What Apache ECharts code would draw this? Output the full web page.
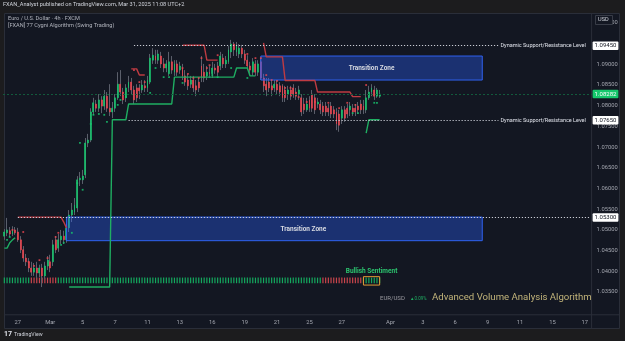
<!DOCTYPE html>
<html><head><meta charset="utf-8">
<script src="https://cdn.jsdelivr.net/npm/echarts@6/dist/echarts.min.js"></script>
<style>html,body{margin:0;padding:0;background:#1c1c1e}#c{width:625px;height:341px}</style>
</head><body><div id="c"></div>
<script>
// ---------- DATA ----------
const tradingDays = ['Feb 26','Feb 27','Feb 28','Mar 3','Mar 4','Mar 5','Mar 6','Mar 7','Mar 10','Mar 11','Mar 12','Mar 13','Mar 14','Mar 17','Mar 18','Mar 19','Mar 20','Mar 21','Mar 24','Mar 25','Mar 26','Mar 27','Mar 28','Mar 31','Apr 1','Apr 2','Apr 3','Apr 4','Apr 7','Apr 8','Apr 9','Apr 10','Apr 11','Apr 14','Apr 15','Apr 16','Apr 17'];
const sessionsPerDay = 6, firstDaySessions = 5, lastDaySessions = 3;
const tickDates = ['Feb 27','Mar 3','Mar 5','Mar 7','Mar 11','Mar 13','Mar 17','Mar 19','Mar 21','Mar 25','Mar 27','Apr 1','Apr 3','Apr 7','Apr 9','Apr 11','Apr 15','Apr 17'];
const tickTexts = ['27','Mar','5','7','11','13','16','19','21','25','27','Apr','3','6','9','11','15','17'];
const hiddenPriceTicks = [1.095, 1.030];

// [open, close, low, high] per 4h candle
const ohlc = [
[1.0485,1.0495,1.0476,1.0502],[1.0493,1.0500,1.0485,1.0529],[1.0498,1.0490,1.0483,1.0507],[1.0490,1.0500,1.0485,1.0509],[1.0500,1.0493,1.0488,1.0507],
[1.0495,1.0476,1.0471,1.0505],[1.0476,1.0452,1.0444,1.0485],[1.0452,1.0432,1.0423,1.0461],[1.0432,1.0423,1.0413,1.0442],[1.0423,1.0408,1.0398,1.0432],[1.0408,1.0398,1.0389,1.0423],
[1.0398,1.0408,1.0389,1.0420],[1.0408,1.0396,1.0384,1.0423],[1.0396,1.0408,1.0386,1.0416],[1.0408,1.0389,1.0362,1.0418],[1.0389,1.0413,1.0381,1.0423],[1.0413,1.0427,1.0403,1.0437],
[1.0423,1.0408,1.0398,1.0440],[1.0423,1.0464,1.0413,1.0476],[1.0476,1.0452,1.0444,1.0485],[1.0456,1.0476,1.0447,1.0490],[1.0476,1.0485,1.0466,1.0500],[1.0485,1.0476,1.0466,1.0498],
[1.0476,1.0505,1.0469,1.0514],[1.0505,1.0536,1.0495,1.0548],[1.0536,1.0548,1.0519,1.0565],[1.0543,1.0560,1.0536,1.0577],[1.0553,1.0621,1.0543,1.0630],[1.0621,1.0625,1.0606,1.0640],
[1.0621,1.0630,1.0611,1.0645],[1.0633,1.0710,1.0625,1.0722],[1.0710,1.0717,1.0700,1.0732],[1.0717,1.0785,1.0712,1.0794],[1.0785,1.0807,1.0778,1.0819],[1.0804,1.0794,1.0785,1.0814],
[1.0794,1.0814,1.0785,1.0828],[1.0814,1.0799,1.0782,1.0823],[1.0799,1.0823,1.0790,1.0838],[1.0823,1.0794,1.0785,1.0833],[1.0794,1.0785,1.0775,1.0852],[1.0785,1.0794,1.0770,1.0809],
[1.0794,1.0819,1.0785,1.0828],[1.0819,1.0852,1.0814,1.0881],[1.0852,1.0833,1.0823,1.0886],[1.0833,1.0814,1.0804,1.0843],[1.0819,1.0843,1.0809,1.0852],[1.0843,1.0857,1.0833,1.0872],
[1.0857,1.0838,1.0828,1.0867],[1.0838,1.0814,1.0804,1.0848],[1.0843,1.0819,1.0809,1.0852],[1.0843,1.0836,1.0816,1.0852],[1.0838,1.0850,1.0831,1.0862],[1.0848,1.0843,1.0833,1.0862],
[1.0843,1.0862,1.0833,1.0872],[1.0857,1.0915,1.0852,1.0925],[1.0910,1.0922,1.0901,1.0939],[1.0920,1.0910,1.0901,1.0935],[1.0910,1.0925,1.0901,1.0935],[1.0920,1.0901,1.0891,1.0930],
[1.0901,1.0891,1.0881,1.0915],[1.0891,1.0901,1.0881,1.0910],[1.0877,1.0906,1.0872,1.0930],[1.0906,1.0886,1.0877,1.0920],[1.0881,1.0901,1.0872,1.0910],[1.0901,1.0881,1.0872,1.0910],
[1.0886,1.0896,1.0877,1.0906],[1.0891,1.0872,1.0862,1.0901],[1.0872,1.0857,1.0848,1.0886],[1.0862,1.0848,1.0838,1.0877],[1.0852,1.0862,1.0843,1.0872],[1.0862,1.0843,1.0833,1.0872],
[1.0848,1.0838,1.0823,1.0862],[1.0857,1.0843,1.0833,1.0867],[1.0896,1.0867,1.0857,1.0920],[1.0881,1.0867,1.0857,1.0901],[1.0872,1.0881,1.0862,1.0896],[1.0881,1.0877,1.0867,1.0896],
[1.0877,1.0891,1.0867,1.0906],[1.0891,1.0886,1.0877,1.0901],[1.0896,1.0881,1.0872,1.0906],[1.0896,1.0920,1.0886,1.0930],[1.0915,1.0901,1.0891,1.0925],[1.0901,1.0910,1.0891,1.0920],
[1.0906,1.0935,1.0901,1.0944],[1.0930,1.0949,1.0915,1.0959],[1.0949,1.0935,1.0920,1.0954],[1.0930,1.0944,1.0920,1.0954],[1.0925,1.0939,1.0915,1.0949],[1.0939,1.0925,1.0915,1.0947],
[1.0925,1.0910,1.0901,1.0935],[1.0910,1.0896,1.0886,1.0922],[1.0896,1.0886,1.0877,1.0906],[1.0881,1.0906,1.0872,1.0915],[1.0901,1.0881,1.0872,1.0910],[1.0881,1.0901,1.0872,1.0910],
[1.0906,1.0867,1.0862,1.0915],[1.0867,1.0848,1.0833,1.0877],[1.0852,1.0838,1.0823,1.0867],[1.0857,1.0843,1.0833,1.0867],[1.0848,1.0838,1.0823,1.0862],[1.0843,1.0852,1.0833,1.0862],
[1.0852,1.0838,1.0828,1.0862],[1.0848,1.0833,1.0823,1.0857],[1.0848,1.0819,1.0809,1.0852],[1.0838,1.0819,1.0809,1.0848],[1.0828,1.0838,1.0814,1.0848],[1.0838,1.0823,1.0814,1.0848],
[1.0843,1.0828,1.0819,1.0852],[1.0833,1.0823,1.0814,1.0843],[1.0828,1.0838,1.0814,1.0848],[1.0819,1.0785,1.0775,1.0828],[1.0804,1.0790,1.0780,1.0819],[1.0790,1.0804,1.0785,1.0819],
[1.0814,1.0794,1.0785,1.0823],[1.0828,1.0794,1.0785,1.0838],[1.0819,1.0790,1.0780,1.0828],[1.0804,1.0809,1.0794,1.0819],[1.0804,1.0790,1.0780,1.0814],[1.0799,1.0785,1.0775,1.0809],
[1.0799,1.0785,1.0775,1.0809],[1.0794,1.0785,1.0775,1.0804],[1.0799,1.0780,1.0770,1.0809],[1.0790,1.0780,1.0770,1.0799],[1.0785,1.0756,1.0741,1.0794],[1.0780,1.0753,1.0737,1.0790],
[1.0770,1.0790,1.0756,1.0799],[1.0790,1.0770,1.0761,1.0799],[1.0794,1.0780,1.0770,1.0804],[1.0790,1.0799,1.0775,1.0809],[1.0794,1.0785,1.0775,1.0804],[1.0794,1.0785,1.0775,1.0804],
[1.0799,1.0790,1.0780,1.0809],[1.0804,1.0790,1.0780,1.0814],[1.0799,1.0790,1.0780,1.0814],[1.0790,1.0819,1.0782,1.0838],[1.0819,1.0833,1.0814,1.0848],[1.0833,1.0843,1.0823,1.0852],
[1.0838,1.0823,1.0814,1.0848],[1.0823,1.0838,1.0819,1.0843],[1.0823,1.0828,1.0819,1.0838]
];

// trailing resistance / support of the algorithm: [candle index, price] breakpoints, '-' = gap
const resistanceLine = [[5,1.0531],[21,1.0531],[22,1.0519],[23,1.0505],[24,'-'],
  [47,1.0889],[49,1.0889],[50,1.0874],[52,1.0874],[53,'-'],
  [66,1.0946],[74,1.0946],[75,1.0910],[79,1.0910],[80,'-'],
  [96,1.0952],[97,1.0918],[103,1.0918],[104,1.0861],[115,1.0861],[116,1.0833],[128,1.0833],[129,1.0822],[132,1.0822]];
const supportLine = [[0,1.0456],[1,1.0456],[2,1.0469],[3,1.0476],[4,1.0481],[5,'-'],
  [24,1.0362],[39,1.0362],[40,1.0766],[45,1.0766],[46,1.0804],[62,1.0804],[63,1.0869],[85,1.0869],[86,1.0891],[90,1.0891],[91,1.0872],[93,1.0872],[94,'-'],
  [134,1.0734],[135,1.0766],[139,1.0766]];
const bullDots = [[1,1.0476],[2,1.0483],[21,1.0464],[22,1.0469],[25,1.0493],[27,1.0613],[28,1.0710],[29,1.0597],[32,1.0756],[33,1.0778],[35,1.0780],[37,1.0778],[38,1.0761],[42,1.0802],[43,1.0814],[45,1.0821],[54,1.0831],[56,1.0891],[59,1.0869],[61,1.0869],[66,1.0855],[77,1.0874],[79,1.0869],[84,1.0891],[90,1.0867],[129,1.0782],[131,1.0782],[137,1.0807],[138,1.0807]];
const bearDots = [[3,1.0500],[7,1.0495],[9,1.0423],[11,1.0413],[13,1.0427],[16,1.0432],[19,1.0483],[20,1.0493],[48,1.0886],[50,1.0857],[52,1.0857],[66,1.0891],[68,1.0877],[70,1.0867],[72,1.0867],[73,1.0915],[75,1.0891],[76,1.0898],[79,1.0922],[90,1.0925],[93,1.0915],[95,1.0915],[97,1.0874],[99,1.0862],[101,1.0860],[104,1.0843],[106,1.0843],[109,1.0821],[112,1.0809],[115,1.0809],[120,1.0807],[124,1.0794],[127,1.0807],[130,1.0802],[134,1.0850]];

// levels
const resistanceLevel = 1.0945, midLevel = 1.0765, supportLevel = 1.0530, lastPrice = 1.08282;
const upperZone = {from: 95, to: 177, top: 1.0920, bottom: 1.0862};
const lowerZone = {from: 23, to: 177, top: 1.0531, bottom: 1.0474};
// volume sentiment per candle (G bullish, R bearish)
const sentiment = 'GGGGGGGGGG' + 'RRRRRRRRRR' +
  'GGGGGGGGGG' + 'GGGGGGGGGG' + 'GGGGGGGGGG' + 'GGGGGGGGGG' + 'GGGGGGGGGG' + 'GGGGGGGGGG' + 'GGGGGGGGGG' + 'GGGGGGGGGG' + 'GGGGGGGGGG' + 'GGGGGGGG' +
  'RRRRRRRRRRRRRRR' + 'GGGGGGG';
const sentimentBox = {from: 133, to: 139};

// ---------- BUILD ----------
const categories = [];
const firstSlotOfDay = {};
tradingDays.forEach((d, di) => {
  const n = di === 0 ? firstDaySessions : (di === tradingDays.length - 1 ? lastDaySessions : sessionsPerDay);
  const start = di === 0 ? sessionsPerDay - firstDaySessions : 0;
  firstSlotOfDay[d] = categories.length;
  for (let s = start; s < start + n; s++) categories.push(d + ' ' + String(s * 4).padStart(2, '0') + ':00');
});
const tickAt = {};
tickDates.forEach((d, i) => { tickAt[firstSlotOfDay[d]] = tickTexts[i]; });

const GREEN = '#17c86f', RED = '#ef4750', WICK = '#5b5f6b';
const FONT = 'Roboto';
const bodies = ohlc.map(d => [d[0], d[1], Math.min(d[0], d[1]), Math.max(d[0], d[1])]);
const volData = sentiment.split('').map(ch => ({value: 1.2, itemStyle: {color: ch === 'G' ? '#14a85e' : '#c9454c'}}));

const GRID_L = 3, GRID_R = 33.4, GRID_T = 12.55, GRID_B = 26.2;
const chart = echarts.init(document.getElementById('c'), null, {renderer: 'canvas', width: 625, height: 341});

const badge = (val, bg, fg) => ({
  yAxis: val,
  lineStyle: {color: 'rgba(0,0,0,0)', width: 1},
  label: {show: true, position: 'end', distance: 1, formatter: val.toFixed(5), backgroundColor: bg, color: fg,
    fontSize: 6, fontFamily: FONT, padding: [1.5, 2, 1, 2], borderRadius: 1, opacity: 1}
});

chart.setOption({
  animation: false,
  backgroundColor: '#1c1c1e',
  textStyle: {fontFamily: FONT},
  grid: [{left: GRID_L, right: GRID_R, top: GRID_T, bottom: GRID_B}],
  xAxis: [
    {type: 'category', data: categories, boundaryGap: true,
      axisLine: {show: false}, axisTick: {show: false}, splitLine: {show: false},
      axisLabel: {interval: (idx) => tickAt[idx] !== undefined, formatter: (v, idx) => tickAt[idx] || '',
        color: '#a3a6af', fontSize: 5.8, margin: 4.5, fontFamily: FONT}}
  ],
  yAxis: [
    {type: 'value', position: 'right', min: 1.0295, max: 1.1025, interval: 0.0005,
      axisLine: {show: false}, axisTick: {show: false}, splitLine: {show: false},
      axisLabel: {margin: 5, color: '#a3a6af', fontSize: 5.8, fontFamily: FONT,
        formatter: v => {
          const onTick = Math.abs(v * 200 - Math.round(v * 200)) < 1e-6;
          const hidden = hiddenPriceTicks.some(h => Math.abs(h - v) < 1e-7);
          return onTick && !hidden ? v.toFixed(5) : '';
        }}},
    // sentiment strip scale (value 0 sits at the strip's base)
    {type: 'value', position: 'left', min: -6.771, max: 58.0, show: false}
  ],
  series: [
    {type: 'candlestick', name: 'wicks', data: ohlc, barWidth: 0.8, z: 2,
      itemStyle: {color: WICK, color0: WICK, borderColor: WICK, borderColor0: WICK, borderWidth: 1}},
    {type: 'candlestick', name: 'bodies', data: bodies, barWidth: 1.4, z: 2,
      itemStyle: {color: GREEN, color0: RED, borderColor: GREEN, borderColor0: RED, borderWidth: 0.6},
      markLine: {silent: true, symbol: 'none', z: 4, animation: false, precision: 5,
        data: [
          [{coord: [48, resistanceLevel], lineStyle: {color: '#c9ccd4', type: [1.2, 1.8], width: 1},
            label: {show: true, position: 'end', distance: 2, formatter: 'Dynamic Support/Resistance Level', color: '#dfe2ea', fontSize: 5.5, fontFamily: FONT}},
           {coord: [183, resistanceLevel]}],
          [{coord: [46, midLevel], lineStyle: {color: '#c9ccd4', type: [1.2, 1.8], width: 1},
            label: {show: true, position: 'end', distance: 2, formatter: 'Dynamic Support/Resistance Level', color: '#dfe2ea', fontSize: 5.5, fontFamily: FONT}},
           {coord: [183, midLevel]}],
          [{coord: [5, supportLevel], lineStyle: {color: '#c9ccd4', type: [1.2, 1.8], width: 1}, label: {show: false}},
           {coord: [217, supportLevel]}],
          {yAxis: lastPrice, lineStyle: {color: '#125a3c', type: [2, 2], width: 1},
            label: {show: true, position: 'end', distance: 1, formatter: lastPrice.toFixed(5), backgroundColor: '#16c86c', color: '#ffffff',
              fontSize: 6, fontFamily: FONT, padding: [1.5, 2, 1, 2], borderRadius: 1}},
          badge(resistanceLevel, '#ffffff', '#131722'),
          badge(midLevel, '#ffffff', '#131722'),
          badge(supportLevel, '#ffffff', '#131722')
        ]},
      markArea: {silent: true, z: 3,
        itemStyle: {color: 'rgba(41,98,255,0.36)', borderColor: '#2f62f0', borderWidth: 1},
        label: {show: true, position: 'inside', color: '#d6d9e0', fontSize: 6.5, fontWeight: 'bold', fontFamily: FONT},
        data: [
          [{xAxis: upperZone.from, yAxis: upperZone.top, name: 'Transition Zone'}, {xAxis: upperZone.to, yAxis: upperZone.bottom}],
          [{xAxis: lowerZone.from, yAxis: lowerZone.top, name: 'Transition Zone', label: {offset: [29, 0]}}, {xAxis: lowerZone.to, yAxis: lowerZone.bottom}]
        ]}},
    {type: 'line', name: 'resistance', data: resistanceLine, showSymbol: false, connectNulls: false, z: 3,
      lineStyle: {color: '#bf3b42', width: 1.4}},
    {type: 'line', name: 'support', data: supportLine, showSymbol: false, connectNulls: false, z: 3,
      lineStyle: {color: '#1fae62', width: 1.4}},
    {type: 'scatter', name: 'bull', data: bullDots, symbol: 'rect', symbolSize: 1.8, z: 3, itemStyle: {color: GREEN}},
    {type: 'scatter', name: 'bear', data: bearDots, symbol: 'rect', symbolSize: 1.8, z: 3, itemStyle: {color: RED}},
    {type: 'bar', name: 'volume', yAxisIndex: 1, data: volData, barWidth: 1.2, z: 2},
    {type: 'line', name: 'sentimentBox', yAxisIndex: 1, data: [], z: 4,
      markArea: {silent: true, z: 4,
        itemStyle: {color: 'rgba(0,0,0,0)', borderColor: '#e39b35', borderWidth: 1},
        label: {show: true, position: 'top', distance: 1.5, color: '#2cc46f', fontSize: 6.5, fontWeight: 'bold', fontFamily: FONT},
        data: [[{xAxis: sentimentBox.from, yAxis: -0.4, name: 'Bullish Sentiment'}, {xAxis: sentimentBox.to, yAxis: 1.4}]]}}
  ],
  graphic: [
    {type: 'rect', z: -10, shape: {x: 4.5, y: 13.5, width: 615, height: 315}, style: {fill: '#131722', stroke: '#2a2e39', lineWidth: 1}},
    {type: 'line', z: -5, shape: {x1: 591.6, y1: 13.5, x2: 591.6, y2: 328.5}, style: {stroke: '#2a2e39', lineWidth: 1}},
    {type: 'line', z: -5, shape: {x1: 4.5, y1: 314.8, x2: 619.5, y2: 314.8}, style: {stroke: '#2a2e39', lineWidth: 1}},
    {type: 'text', z: 10, left: 3, top: 2, style: {text: 'FXAN_Analyst published on TradingView.com, Mar 31, 2025 11:08 UTC+2', fill: '#d1d4dc', fontSize: 5.6, fontFamily: FONT}},
    {type: 'text', z: 10, left: 8, top: 16, style: {text: 'Euro / U.S. Dollar · 4h · FXCM', fill: '#b2b5be', fontSize: 5.6, fontFamily: FONT}},
    {type: 'text', z: 10, left: 8, top: 22.5, style: {text: '[FXAN] 77 Cygni Algorithm (Swing Trading)', fill: '#b2b5be', fontSize: 5.6, fontFamily: FONT}},
    {type: 'rect', z: 10, shape: {x: 595.5, y: 15.5, width: 17, height: 9}, style: {fill: '#131722', stroke: '#434651', lineWidth: 0.8}},
    {type: 'text', z: 11, left: 598, top: 17, style: {text: 'USD', fill: '#d1d4dc', fontSize: 5.6, fontFamily: FONT}},
    {type: 'text', z: 10, left: 380, top: 295.5, style: {text: 'EUR/USD', fill: '#9a9aa0', fontSize: 6, fontFamily: FONT}},
    {type: 'text', z: 10, left: 410, top: 296, style: {text: '▲0.09%', fill: '#1fae62', fontSize: 4.5, fontFamily: FONT}},
    {type: 'text', z: 10, left: 432, top: 292.5, style: {text: 'Advanced Volume Analysis Algorithm', fill: '#c2b47a', fontSize: 9.6, fontFamily: FONT}},
    {type: 'text', z: 10, left: 4, top: 331, style: {text: '17', fill: '#e0e3eb', fontSize: 7, fontWeight: 'bold', fontFamily: FONT}},
    {type: 'text', z: 10, left: 14, top: 332.5, style: {text: 'TradingView', fill: '#d1d4dc', fontSize: 5.2, fontFamily: FONT}}
  ]
});
</script>
</body></html>
